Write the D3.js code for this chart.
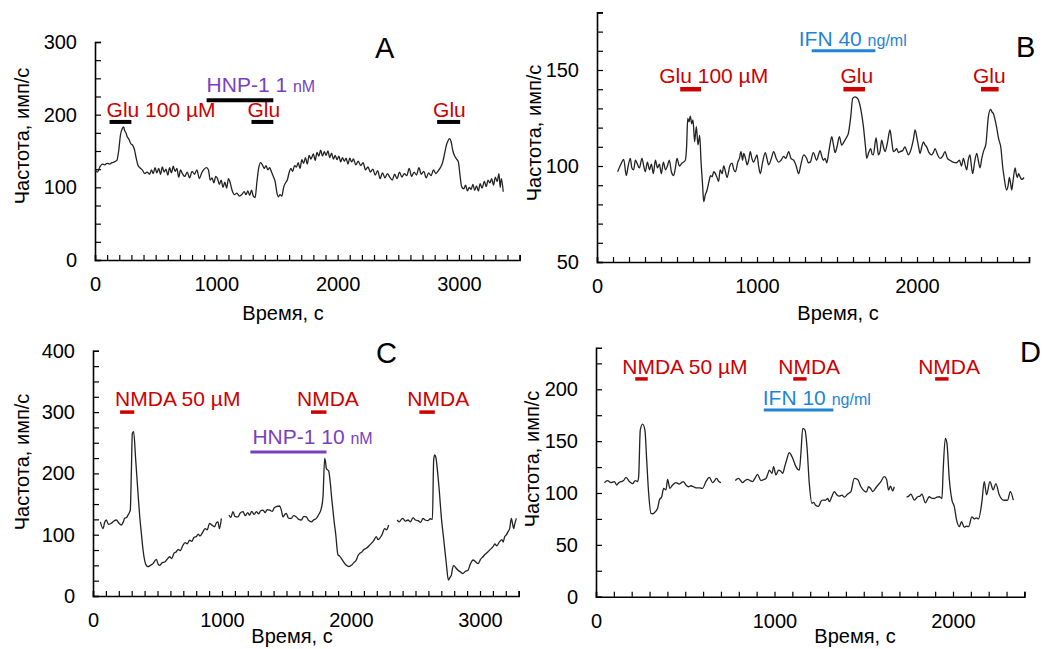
<!DOCTYPE html>
<html><head><meta charset="utf-8">
<script src="https://cdn.jsdelivr.net/npm/d3@7"></script>
<style>
body{margin:0;background:#fff}
svg{display:block}
text{font-family:"Liberation Sans",Arial,Helvetica,sans-serif}
</style>
</head><body>
<svg id="chart" width="1046" height="649"></svg>
<script>
// ---------------- DATA ----------------
// Panel A: time (s), frequency (imp/s)
const traceA = [[0,124],[20,121],[40,128],[60,132],[80,131],[100,133],[120,132],[140,134],[160,135],[180,137],[195,150],[210,172],[225,181],[235,183],[245,178],[255,175],[265,170],[280,166],[295,160],[310,158],[325,152],[340,140],[355,130],[370,127],[390,124],[410,119],[430,121],[450,118],[465,124],[480,119],[495,127],[510,120],[525,126],[540,118],[555,128],[570,121],[585,125],[600,117],[615,127],[630,120],[645,129],[660,122],[675,126],[690,114],[705,124],[720,119],[740,115],[760,121],[780,113],[800,122],[820,118],[840,124],[860,112],[880,120],[900,125],[920,127],[935,124],[950,110],[965,113],[980,106],[995,115],[1010,112],[1025,104],[1040,110],[1055,100],[1070,107],[1085,99],[1100,112],[1115,106],[1130,96],[1150,90],[1170,92],[1190,88],[1210,90],[1230,94],[1245,90],[1260,95],[1275,89],[1290,96],[1305,88],[1320,86],[1335,108],[1350,127],[1365,134],[1380,131],[1395,126],[1410,130],[1425,124],[1440,127],[1455,121],[1470,115],[1485,108],[1500,92],[1512,87],[1525,90],[1540,88],[1555,100],[1570,106],[1585,110],[1600,120],[1615,126],[1630,122],[1645,130],[1660,128],[1675,134],[1690,126],[1705,138],[1720,133],[1735,141],[1750,132],[1765,144],[1780,139],[1800,146],[1815,137],[1830,148],[1845,143],[1860,151],[1875,143],[1890,149],[1905,144],[1920,150],[1935,141],[1950,147],[1965,139],[1980,144],[1995,138],[2010,143],[2025,135],[2040,141],[2055,136],[2070,140],[2085,132],[2100,140],[2115,135],[2130,139],[2150,131],[2170,136],[2190,130],[2210,134],[2230,124],[2250,128],[2270,121],[2290,125],[2310,117],[2330,123],[2350,112],[2370,120],[2390,113],[2410,119],[2430,114],[2450,110],[2470,118],[2490,112],[2510,121],[2530,114],[2550,119],[2570,116],[2590,126],[2610,115],[2630,121],[2650,117],[2670,127],[2690,118],[2710,122],[2730,113],[2750,120],[2770,116],[2790,124],[2810,119],[2830,123],[2850,128],[2865,134],[2880,145],[2895,157],[2910,164],[2922,167],[2935,163],[2950,150],[2965,143],[2980,139],[2995,135],[3010,115],[3022,101],[3040,98],[3055,103],[3070,95],[3085,100],[3100,97],[3115,104],[3130,96],[3145,102],[3160,95],[3175,105],[3190,99],[3210,108],[3225,101],[3240,110],[3255,106],[3270,112],[3285,103],[3300,114],[3315,108],[3330,119],[3340,100],[3350,112],[3365,94]];

// Panel B
const traceB = [[129,97],[150,101],[167,103.5],[183,95],[195,100],[208,104],[218,99],[229,98],[240,103],[250,101.5],[265,99],[281,104],[292,100],[302,97],[315,102],[328,98],[340,101],[352,96],[365,103],[378,99],[390,101],[402,96],[415,102],[428,98],[440,100],[452,103],[465,97],[479,95],[490,99],[500,104],[515,100],[531,101.5],[552,103],[560,110],[567,124.8],[575,123],[583,126],[592,122],[600,124],[610,112.7],[621,120.5],[631,111],[642,116],[650,102.7],[660,90],[667,81.4],[677,85],[688,87.5],[700,92],[710,95],[719,94.4],[730,97],[740,96],[750,94],[760,92],[770,98],[782,96],[792,100],[803,97],[813,94],[830,100],[844,101.5],[855,98],[865,97],[880,102],[890,104],[900,107.5],[910,103],[917,106.6],[928,104],[938,100.6],[948,103],[958,107.5],[968,104],[979,102],[990,104],[1000,105.8],[1010,100],[1021,96],[1035,102],[1052,107],[1062,104],[1073,100.6],[1090,104],[1104,107.5],[1120,104],[1135,102],[1150,103],[1167,105],[1180,104],[1198,107.5],[1212,104],[1229,103],[1245,100],[1260,96],[1275,101],[1292,105.8],[1310,104],[1321,101.7],[1333,102],[1352,107],[1373,103],[1385,106],[1394,108],[1405,105],[1415,103],[1426,104],[1436,101.7],[1450,108],[1460,113],[1467,115.3],[1478,111],[1488,107],[1500,110],[1515,115.3],[1529,110.9],[1540,112],[1550,113.5],[1560,115],[1571,117],[1586,125.7],[1598,135.2],[1613,136],[1624,135.5],[1634,134.4],[1650,129],[1665,120.6],[1678,110],[1686,104],[1698,107],[1711,109],[1720,106],[1727,105.8],[1744,114.6],[1752,110],[1759,105.8],[1770,108],[1779,113.5],[1790,110],[1800,107.5],[1815,112],[1831,118.75],[1842,113],[1852,107.5],[1862,108],[1873,109],[1884,107],[1894,107.5],[1910,108],[1925,110],[1935,108],[1946,105.8],[1956,107],[1967,110],[1978,114],[1988,118.75],[2002,113.5],[2010,110],[2019,106.6],[2030,110],[2040,112.6],[2050,111],[2060,110],[2075,107],[2092,105.8],[2102,107],[2113,109],[2128,106],[2144,104],[2160,105],[2175,107.5],[2190,104],[2206,103],[2225,102],[2248,101.7],[2265,103],[2278,100],[2290,104],[2300,101],[2311,98],[2320,103],[2331,105.8],[2340,100],[2348,96],[2360,102],[2373,106.6],[2383,103],[2394,99],[2405,104],[2415,107.5],[2431,111.7],[2446,125.7],[2460,129.5],[2470,128],[2477,127.4],[2488,124],[2498,120],[2509,114.6],[2525,109],[2535,100],[2544,94.4],[2560,87.5],[2570,90],[2577,94],[2585,91],[2592,87.5],[2600,92],[2613,99],[2620,96],[2627,94],[2635,96],[2644,94.4],[2655,93],[2669,94]];

// Panel C (three recording segments)
const traceC1 = [[57,121],[78,110],[90,120],[103,124],[120,117],[142,118.6],[160,122],[181,124],[200,119],[220,115.8],[235,121],[245,126.7],[260,128],[271,132],[289,140],[297,200],[305,265],[315,268],[331,222],[349,167.5],[362,130],[375,102],[388,75],[400,58.7],[413,50],[426,47.8],[445,50],[465,52.7],[478,57],[491,59.8],[505,52],[517,50],[535,54],[556,55.5],[575,60],[594,64],[610,61],[628,70],[646,72.3],[660,76],[675,74],[698,83],[715,87],[730,85],[749,91],[765,89],[785,96],[801,96.8],[815,101],[830,98],[853,105],[870,110],[885,108],[904,118.6],[920,116],[943,113],[955,119],[969,121],[980,110],[995,126.7]];
const traceC2 = [[1054,132],[1068,128],[1085,137.6],[1100,130],[1124,129],[1140,135],[1163,137.6],[1180,131],[1200,136],[1214,132],[1230,138],[1250,133],[1266,137.6],[1285,134],[1300,139],[1318,140],[1335,136],[1350,141],[1370,140],[1390,138],[1405,144],[1421,145.7],[1447,146.8],[1460,140],[1473,129],[1487,133],[1499,134.8],[1515,127],[1537,126.7],[1555,131],[1576,129],[1595,125],[1615,124],[1635,130],[1654,129],[1672,123],[1693,121],[1710,124],[1731,126.7],[1750,133],[1770,143],[1783,162],[1796,224.6],[1803,218],[1809,208],[1827,204],[1840,183.8],[1850,160],[1860,140],[1870,120],[1881,102],[1899,67],[1912,65],[1925,61.4],[1945,55],[1964,50],[1984,48],[2003,50],[2020,54],[2041,58.7],[2055,66],[2067,69.6],[2085,72],[2100,76],[2119,77.8],[2140,82],[2158,85.9],[2175,90],[2196,96.8],[2210,92],[2222,94],[2240,100],[2261,110],[2275,108],[2292,115.8]];
const traceC3 = [[2357,124],[2375,121],[2390,125],[2403,126.7],[2420,122],[2442,124],[2460,121],[2481,128],[2500,124],[2520,123],[2540,120],[2558,126.7],[2575,124],[2597,123],[2615,126],[2631,125],[2641,222],[2649,230],[2658,226],[2667,211],[2685,170],[2700,129],[2720,90],[2739,52.7],[2755,26],[2766,30],[2778,34],[2787,45],[2796,50],[2812,46],[2830,42],[2850,39],[2868,36.5],[2885,40],[2907,42],[2925,52],[2946,58.7],[2965,56],[2985,52.7],[3005,60],[3023,64],[3040,68],[3062,72.3],[3080,76],[3101,80.5],[3115,85],[3130,82],[3152,88.7],[3170,92],[3180,88],[3191,96.8],[3205,100],[3217,105],[3230,110],[3243,126.7],[3252,118],[3261,110],[3270,118],[3282,126.7]];

// Panel D (three recording segments)
const traceD1 = [[47,110],[65,111.9],[84,110],[103,111],[116,107.7],[128,110],[140,111],[155,112],[168,115],[187,111],[205,109],[220,112],[233,111],[239,115.7],[248,160.7],[261,166.5],[274,160.7],[284,131.8],[295,99.7],[308,80.4],[318,80],[327,81],[345,85.2],[355,93.2],[368,96.4],[379,104.5],[392,103],[401,113],[414,104.5],[429,107.7],[448,110],[467,108.6],[489,111],[504,107.7],[518,106],[532,107],[546,106],[560,105],[580,105],[597,104.5],[616,111],[635,115],[653,110],[676,114],[688,111],[700,110]];
const traceD2 = [[780,112],[799,114],[810,112],[821,110],[835,112],[849,113.2],[863,112],[877,111],[890,114],[905,118],[924,112],[940,113],[952,114],[962,118],[971,122],[986,119],[995,125.4],[1008,117.4],[1023,122],[1035,121],[1046,119],[1058,126],[1068,131.8],[1083,138.9],[1092,137],[1102,133.4],[1120,125.4],[1139,122],[1148,138.2],[1158,162.3],[1171,160.7],[1182,144.6],[1195,109],[1210,90],[1220,91],[1229,88.5],[1247,87],[1260,92],[1270,93.2],[1285,93],[1298,94.7],[1307,91.7],[1320,96],[1335,101.4],[1350,98],[1363,97],[1378,98],[1391,96],[1410,99],[1428,101.4],[1447,114],[1466,113],[1484,106],[1503,102],[1515,101],[1527,106],[1540,104],[1550,101.4],[1572,106],[1596,111],[1615,115.7],[1628,113],[1639,102.9],[1650,106.7],[1662,102],[1671,106]];
const traceD3 = [[1740,96],[1752,97],[1764,99],[1783,93.2],[1802,96.4],[1815,97],[1826,99],[1845,90.5],[1867,96.4],[1880,95],[1895,94.7],[1910,96],[1923,96.4],[1938,94.7],[1945,122],[1957,152.7],[1966,148],[1979,114],[1994,93.2],[2007,87],[2020,74],[2035,67.5],[2048,72.3],[2063,67],[2075,68],[2087,67.5],[2106,77],[2119,75],[2130,76],[2143,75],[2162,91.7],[2175,111],[2188,98.2],[2207,111],[2225,103],[2240,109],[2259,98.2],[2281,93.2],[2295,93],[2306,93.2],[2321,101.4],[2338,93.2]];

// Axis ticks (labelled) and minor tick steps
const xLabelsA = [0,1000,2000,3000], yLabelsA = [0,100,200,300];
const xLabelsB = [0,1000,2000],      yLabelsB = [50,100,150];
const xLabelsC = [0,1000,2000,3000], yLabelsC = [0,100,200,300,400];
const xLabelsD = [0,1000,2000],      yLabelsD = [0,50,100,150,200];

// Application bars: [start, end] (s), level (imp/s), label
const agonistBarsA = [[120,300],[1290,1470],[2820,3010]];
const agonistTextA = ["Glu 100 µM","Glu","Glu"];
const peptideBarA = [920,1470]; const peptideTextA = ["HNP-1 1 ","nM"];
const agonistBarsB = [[520,650],[1540,1675],[2400,2510]];
const agonistTextB = ["Glu 100 µM","Glu","Glu"];
const peptideBarB = [1342,1740]; const peptideTextB = ["IFN 40 ","ng/ml"];
const agonistBarsC = [[210,320],[1690,1810],[2530,2650]];
const agonistTextC = ["NMDA 50 µM","NMDA","NMDA"];
const peptideBarC = [1220,1810]; const peptideTextC = ["HNP-1 10 ","nM"];
const agonistBarsD = [[220,290],[1105,1180],[1900,1975]];
const agonistTextD = ["NMDA 50 µM","NMDA","NMDA"];
const peptideBarD = [940,1330]; const peptideTextD = ["IFN 10 ","ng/ml"];

// ---------------- LAYOUT ----------------
const RED = "#cc0000", PURPLE = "#7a3fbe", BLUE = "#1f84d6";
const panels = [
  {letter:"A", traces:[traceA], xDom:[0,3500], xR:[95,519.6], yDom:[0,300], yR:[260,42],
   xLab:xLabelsA, yLab:yLabelsA, yMinor:25,
   ag:agonistBarsA, agT:agonistTextA, agLevel:190, agColor:"#000", agW:4, agOff:[-3,-4,-4], agDy:5,
   pe:peptideBarA, peT:peptideTextA, peLevel:220, peColor:"#000", peTextColor:PURPLE, peW:4, peOff:0, peDy:8,
   letterPos:[375,58], xTitle:[283,320], yTitle:[22,136]},
  {letter:"B", traces:[traceB], xDom:[0,2700], xR:[597,1029], yDom:[50,180], yR:[262,12.4],
   xLab:xLabelsB, yLab:yLabelsB, yMinor:10,
   ag:agonistBarsB, agT:agonistTextB, agLevel:140, agColor:RED, agW:4.5, agOff:[-21,-3,-8], agDy:6,
   pe:peptideBarB, peT:peptideTextB, peLevel:160, peColor:BLUE, peTextColor:BLUE, peW:3, peOff:-13, peDy:5,
   letterPos:[1016,57], xTitle:[838,320], yTitle:[534,133]},
  {letter:"C", traces:[traceC1,traceC2,traceC3], xDom:[0,3300], xR:[93,518.7], yDom:[0,400], yR:[596,350.8],
   xLab:xLabelsC, yLab:yLabelsC, yMinor:25,
   ag:agonistBarsC, agT:agonistTextC, agLevel:300, agColor:RED, agW:3.5, agOff:[-5,-14,-12], agDy:6,
   pe:peptideBarC, peT:peptideTextC, peLevel:235, peColor:PURPLE, peTextColor:PURPLE, peW:3, peOff:2, peDy:8,
   letterPos:[376,363], xTitle:[292,643], yTitle:[22,462]},
  {letter:"D", traces:[traceD1,traceD2,traceD3], xDom:[0,2400], xR:[596,1024.4], yDom:[0,240], yR:[596.7,347.8],
   xLab:xLabelsD, yLab:yLabelsD, yMinor:25,
   ag:agonistBarsD, agT:agonistTextD, agLevel:210, agColor:RED, agW:3.5, agOff:[-13,-15,-17], agDy:5,
   pe:peptideBarD, peT:peptideTextD, peLevel:180, peColor:BLUE, peTextColor:BLUE, peW:3, peOff:-1, peDy:5,
   letterPos:[1020,362], xTitle:[855,643], yTitle:[532,459]}
];

const svg = d3.select("#chart");
svg.append("rect").attr("width",1046).attr("height",649).attr("fill","#fff");

panels.forEach(p => {
  const x = d3.scaleLinear().domain(p.xDom).range(p.xR);
  const y = d3.scaleLinear().domain(p.yDom).range(p.yR);
  const g = svg.append("g");

  // X axis
  const xt = d3.range(p.xDom[0], p.xDom[1] + 1, 100);
  const xa = d3.axisBottom(x).tickValues(xt).tickSize(-5).tickPadding(17)
    .tickFormat(d => p.xLab.includes(d) ? d : "");
  const gx = g.append("g").attr("transform", `translate(0,${p.yR[0]})`).call(xa);
  // Y axis
  const yt = d3.range(p.yDom[0], p.yDom[1] + 0.001, p.yMinor);
  const ya = d3.axisLeft(y).tickValues(yt).tickSize(-6).tickPadding(18)
    .tickFormat(d => p.yLab.includes(d) ? d : "");
  const gy = g.append("g").attr("transform", `translate(${p.xR[0]},0)`).call(ya);
  [gx, gy].forEach(a => {
    a.select(".domain").attr("stroke","#000").attr("stroke-width",1.6);
    a.selectAll(".tick line").attr("stroke","#000").attr("stroke-width",1.2);
    a.selectAll(".tick text").attr("fill","#000").style("font-size","20px")
      .style("font-family",'"Liberation Sans",Arial,sans-serif');
  });

  // traces
  const line = d3.line().x(d => x(d[0])).y(d => y(d[1])).curve(d3.curveMonotoneX);
  p.traces.forEach(tr => {
    g.append("path").datum(tr).attr("d", line).attr("fill","none")
      .attr("stroke","#222").attr("stroke-width",1.3).attr("stroke-linejoin","round");
  });

  // agonist bars + labels
  p.ag.forEach((b, i) => {
    g.append("line").attr("x1", x(b[0])).attr("x2", x(b[1]))
      .attr("y1", y(p.agLevel)).attr("y2", y(p.agLevel))
      .attr("stroke", p.agColor).attr("stroke-width", p.agW);
    g.append("text").attr("x", x(b[0]) + p.agOff[i]).attr("y", y(p.agLevel) - p.agDy)
      .attr("fill", RED).style("font-size","21px").text(p.agT[i]);
  });
  // peptide / cytokine bar + label
  g.append("line").attr("x1", x(p.pe[0])).attr("x2", x(p.pe[1]))
    .attr("y1", y(p.peLevel)).attr("y2", y(p.peLevel))
    .attr("stroke", p.peColor).attr("stroke-width", p.peW);
  const t = g.append("text").attr("x", x(p.pe[0]) + p.peOff).attr("y", y(p.peLevel) - p.peDy)
    .attr("fill", p.peTextColor).style("font-size","21px");
  t.append("tspan").text(p.peT[0]);
  t.append("tspan").style("font-size","16px").text(p.peT[1]);

  // panel letter
  g.append("text").attr("x", p.letterPos[0]).attr("y", p.letterPos[1])
    .style("font-size","29px").attr("fill","#000").text(p.letter);
  // axis titles
  g.append("text").attr("x", p.xTitle[0]).attr("y", p.xTitle[1]).attr("text-anchor","middle")
    .style("font-size","20px").attr("fill","#000").text("Время, с");
  g.append("text").attr("transform", `translate(${p.yTitle[0]},${p.yTitle[1]}) rotate(-90)`)
    .attr("text-anchor","middle").attr("dy","0.35em")
    .style("font-size","20px").attr("fill","#000").text("Частота, имп/с");
});
</script>
</body></html>
